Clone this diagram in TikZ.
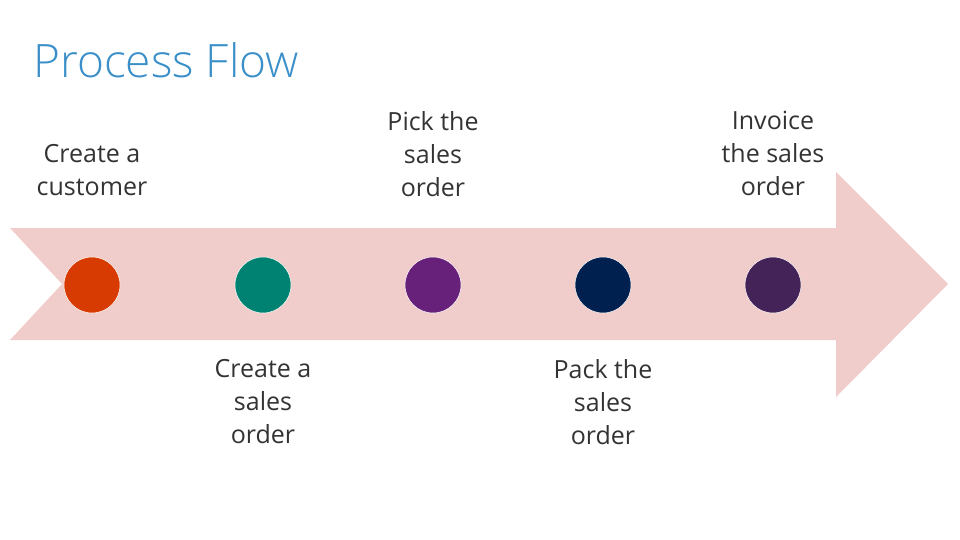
\documentclass[tikz,border=0pt]{standalone}
\usepackage{fontspec}
\setmainfont{Open Sans}
\newfontfamily\lightfont{Open Sans Light}
\definecolor{band}{HTML}{F0CDCA}
\definecolor{ttl}{HTML}{3A8FC9}
\definecolor{cA}{HTML}{D83B01}
\definecolor{cB}{HTML}{008272}
\definecolor{cC}{HTML}{68217A}
\definecolor{cD}{HTML}{002050}
\definecolor{cE}{HTML}{442359}
\begin{document}
\begin{tikzpicture}[x=1pt,y=-1pt,
  dot/.style={circle,minimum size=56pt,inner sep=0pt,draw=white,line width=0.5pt},
  lbl/.style={align=center,font=\fontsize{25}{33}\selectfont,text=black!80,inner sep=0pt}]
\useasboundingbox (0,0) rectangle (960,540);
\fill[band] (10,228) -- (836,228) -- (836,172) -- (948,284) -- (836,397) -- (836,340) -- (10,340) -- (62,284) -- cycle;
\node[anchor=base west,text=ttl,inner sep=0pt,font=\lightfont\fontsize{46}{50}\selectfont] (title) at (33,78) {Process Flow};
\node[dot,fill=cA] (c1) at (92,285) {};
\node[dot,fill=cB] (c2) at (263,285) {};
\node[dot,fill=cC] (c3) at (433,285) {};
\node[dot,fill=cD] (c4) at (603,285) {};
\node[dot,fill=cE] (c5) at (773,285) {};
\node[lbl,anchor=north] (l1) at (92,144) {Create a\\customer};
\node[lbl,anchor=north] (l3) at (433,111) {Pick the\\sales\\order};
\node[lbl,anchor=north] (l5) at (773,111) {Invoice\\the sales\\order};
\node[lbl,anchor=north] (l2) at (263,359) {Create a\\sales\\order};
\node[lbl,anchor=north] (l4) at (603,359) {Pack the\\sales\\order};
\end{tikzpicture}
\end{document}
